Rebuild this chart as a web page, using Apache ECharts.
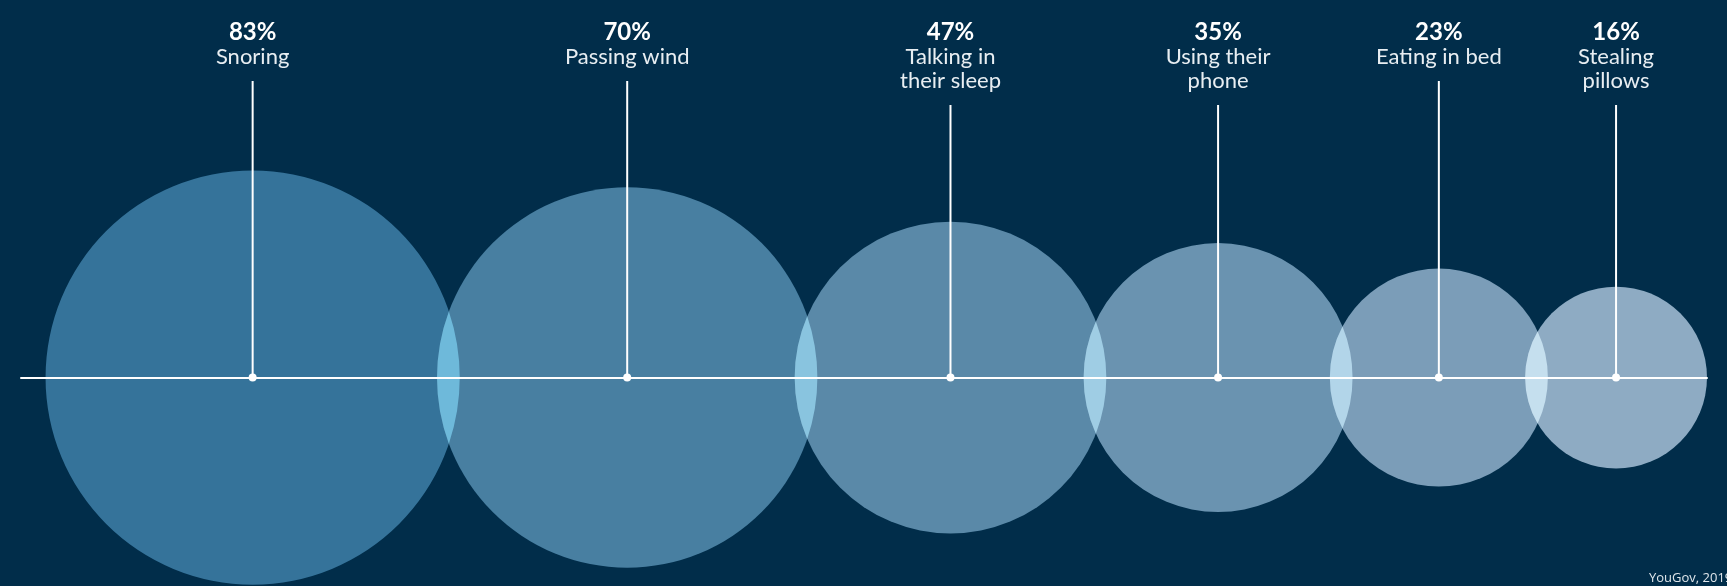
<!DOCTYPE html>
<html>
<head>
<meta charset="utf-8">
<script src="https://cdn.jsdelivr.net/npm/echarts@6/dist/echarts.min.js"></script>
<style>
html,body{margin:0;padding:0;background:#012d4a;}
#chart{width:1727px;height:586px;}
</style>
</head>
<body>
<div id="chart"></div>
<script>
// ---- data ----
var categories = ['Snoring', 'Passing wind', 'Talking in\ntheir sleep', 'Using their\nphone', 'Eating in bed', 'Stealing\npillows'];
var percentValues = [83, 70, 47, 35, 23, 16];
var percentLabels = ['83%', '70%', '47%', '35%', '23%', '16%'];
var sourceText = 'YouGov, 2019';

// ---- styles ----
var BG = '#012d4a';
var circleColors = ['#35739a', '#487fa1', '#5a89a8', '#6a93b0', '#7b9db8', '#8eabc3'];
var FONT = 'Lato, "Open Sans", sans-serif';

function hexToRgb(h) { h = h.replace('#', ''); return [parseInt(h.substr(0,2),16), parseInt(h.substr(2,2),16), parseInt(h.substr(4,2),16)]; }
function screenColor(a, b) {
  var A = hexToRgb(a), B = hexToRgb(b);
  var c = A.map(function (v, i) { return Math.round(255 - (255 - v) * (255 - B[i]) / 255); });
  return 'rgb(' + c.join(',') + ')';
}

// layout in data units: radius = sqrt(value), neighbouring circles overlap by 1 unit
var radii = percentValues.map(function (v) { return Math.sqrt(v); });
var centers = [];
(function () {
  var edge = 1.08;
  radii.forEach(function (r, i) {
    if (i > 0) edge -= 1;
    var c = edge + r;
    centers.push(c);
    edge = c + r;
  });
})();

var seriesData = centers.map(function (c, i) { return [c, 0, percentValues[i], radii[i]]; });

var chart = echarts.init(document.getElementById('chart'), null, { renderer: 'canvas' });

function renderItem(params, api) {
  var i = params.dataIndex;
  var p = api.coord([api.value(0), 0]);
  var cx = p[0], cy = p[1];
  var r = api.size([api.value(3), 0])[0];
  var children = [];
  children.push({ type: 'circle', shape: { cx: cx, cy: cy, r: r }, style: { fill: circleColors[i] }, z2: 1 });
  if (i > 0) {
    var pp = api.coord([centers[i - 1], 0]);
    var x1 = pp[0];
    var r1 = api.size([radii[i - 1], 0])[0];
    var d = cx - x1;
    var a = (d * d + r1 * r1 - r * r) / (2 * d);
    var h = Math.sqrt(Math.max(r1 * r1 - a * a, 0));
    var ix = x1 + a;
    var pd = 'M ' + ix + ' ' + (cy - h) +
      ' A ' + r + ' ' + r + ' 0 0 0 ' + ix + ' ' + (cy + h) +
      ' A ' + r1 + ' ' + r1 + ' 0 0 0 ' + ix + ' ' + (cy - h) + ' Z';
    children.push({ type: 'path', shape: { pathData: pd }, style: { fill: screenColor(circleColors[i - 1], circleColors[i]) }, z2: 2 });
  }
  var lines = categories[i].split('\n');
  var lineTop = 57 + (lines.length - 1) * 24 + 24;
  children.push({ type: 'line', shape: { x1: cx, y1: lineTop, x2: cx, y2: cy }, style: { stroke: '#ffffff', lineWidth: 2 }, z2: 3 });
  children.push({ type: 'circle', shape: { cx: cx, cy: cy, r: 4 }, style: { fill: '#ffffff' }, z2: 4 });
  children.push({ type: 'text', style: { text: percentLabels[i], x: cx, y: 32, align: 'center', verticalAlign: 'middle', fill: '#ffffff', fontSize: 24, fontWeight: 'bold', fontFamily: FONT }, z2: 5 });
  lines.forEach(function (t, j) {
    children.push({ type: 'text', style: { text: t, x: cx, y: 57 + j * 24, align: 'center', verticalAlign: 'middle', fill: '#e8eef2', fontSize: 22, fontFamily: FONT }, z2: 5 });
  });
  return { type: 'group', children: children };
}

chart.setOption({
  backgroundColor: BG,
  animation: false,
  grid: { left: 21, right: 20, top: 0, bottom: 0 },
  xAxis: {
    type: 'value', min: 0, max: 74.17, z: 10,
    axisLine: { show: true, onZero: true, lineStyle: { color: '#ffffff', width: 2 } },
    axisTick: { show: false }, axisLabel: { show: false }, splitLine: { show: false }
  },
  yAxis: {
    type: 'value', min: -9.17, max: 16.61,
    axisLine: { show: false }, axisTick: { show: false }, axisLabel: { show: false }, splitLine: { show: false }
  },
  graphic: [{
    type: 'text', left: 1649, top: 572,
    style: { text: sourceText, fill: '#dfe6eb', fontSize: 13, fontFamily: '"Open Sans", Lato, sans-serif' }
  }],
  series: [{
    type: 'custom',
    renderItem: renderItem,
    encode: { x: 0, y: 1 },
    data: seriesData,
    clip: false
  }]
});
</script>
</body>
</html>
